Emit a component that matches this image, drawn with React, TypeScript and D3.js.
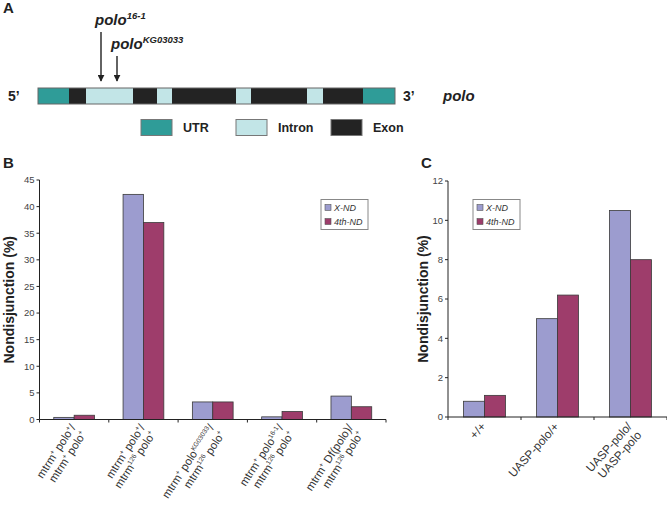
import React from 'react';
import * as d3 from 'd3';

// ---------- Data ----------
const seriesNames = ['X-ND', '4th-ND'];
const seriesColors = ['#9c9ccf', '#9e3d6b'];

const bLabels = [
  ['mtrm^{+} polo^{+}/', 'mtrm^{+} polo^{+}'],
  ['mtrm^{+} polo^{+}/', 'mtrm^{126} polo^{+}'],
  ['mtrm^{+} polo^{KG03033}/', 'mtrm^{126} polo^{+}'],
  ['mtrm^{+} polo^{16-1}/', 'mtrm^{126} polo^{+}'],
  ['mtrm^{+} Df(polo)/', 'mtrm^{126} polo^{+}'],
];
const bXND = [0.4, 42.3, 3.3, 0.5, 4.4];
const b4thND = [0.8, 37.0, 3.3, 1.5, 2.4];
const bTicks = [0, 5, 10, 15, 20, 25, 30, 35, 40, 45];

const cLabels = [['+/+'], ['UASP-polo/+'], ['UASP-polo/', 'UASP-polo']];
const cXND = [0.8, 5.0, 10.5];
const c4thND = [1.1, 6.2, 8.0];
const cTicks = [0, 2, 4, 6, 8, 10, 12];

// gene model: segment types and lengths (relative units)
const geneSegTypes = ['UTR', 'Exon', 'Intron', 'Exon', 'Intron', 'Exon', 'Intron', 'Exon', 'Intron', 'Exon', 'UTR'];
const geneSegLengths = [31, 17, 47, 24, 15, 64, 15, 56, 16, 40, 32];
const geneTypeColors: Record<string, string> = { UTR: '#2f9c98', Intron: '#c2e5e7', Exon: '#232323' };
const legendTypes = ['UTR', 'Intron', 'Exon'];
const mutations = [
  { name: 'polo', sup: '16-1', pos: 63 },
  { name: 'polo', sup: 'KG03033', pos: 79 },
];

const FONT = 'Liberation Sans, Arial, Helvetica, sans-serif';

function parseRich(s: string) {
  const parts: { t: string; sup: boolean }[] = [];
  const re = /\^\{([^}]*)\}/g;
  let last = 0;
  let m: RegExpExecArray | null;
  while ((m = re.exec(s))) {
    if (m.index > last) parts.push({ t: s.slice(last, m.index), sup: false });
    parts.push({ t: m[1], sup: true });
    last = m.index + m[0].length;
  }
  if (last < s.length) parts.push({ t: s.slice(last), sup: false });
  return parts;
}

function RichLine({ s, y, fontSize }: { s: string; y: number; fontSize: number }) {
  const parts = parseRich(s);
  let prevSup = false;
  const shift = fontSize * 0.38;
  return (
    <text x={0} y={y} textAnchor="end" fontSize={fontSize} fill="#333" fontFamily={FONT}>
      {parts.map((p, i) => {
        const dy = p.sup && !prevSup ? -shift : !p.sup && prevSup ? shift : 0;
        prevSup = p.sup;
        return (
          <tspan key={i} dy={dy} fontSize={p.sup ? fontSize * 0.58 : fontSize}>
            {p.t}
          </tspan>
        );
      })}
    </text>
  );
}

type PanelProps = {
  x0: number;
  x1: number;
  yTop: number;
  yBottom: number;
  max: number;
  ticks: number[];
  labels: string[][];
  values: number[][];
  outerPad: number;
  labelAngle: number;
  labelSize: number;
  legendX: number;
  legendY: number;
  titleX: number;
  labelOffset: number;
};

function BarPanel(p: PanelProps) {
  const y = d3.scaleLinear().domain([0, p.max]).range([p.yBottom, p.yTop]);
  const idx = p.labels.map((_, i) => String(i));
  const x = d3.scaleBand().domain(idx).range([p.x0, p.x1]).padding(0);
  const xs = d3.scaleBand().domain(seriesNames).range([0, x.bandwidth()]).paddingInner(0).paddingOuter(p.outerPad);
  const boundaries = [...idx.map((i) => x(i)!), p.x1];
  const midY = (p.yTop + p.yBottom) / 2;
  return (
    <g>
      {/* bars */}
      {idx.map((i, ci) =>
        seriesNames.map((s, si) => {
          const v = p.values[si][ci];
          return (
            <rect
              key={i + s}
              x={x(i)! + xs(s)!}
              y={y(v)}
              width={xs.bandwidth()}
              height={y(0) - y(v)}
              fill={seriesColors[si]}
              stroke="#3a3a3a"
              strokeWidth={0.8}
            />
          );
        })
      )}
      {/* y axis */}
      <line x1={p.x0} x2={p.x0} y1={p.yTop} y2={p.yBottom} stroke="#222" strokeWidth={1} />
      {p.ticks.map((t) => (
        <g key={t}>
          <line x1={p.x0 - 3} x2={p.x0} y1={y(t)} y2={y(t)} stroke="#222" strokeWidth={1} />
          <text x={p.x0 - 5} y={y(t)} dy="0.35em" textAnchor="end" fontSize={9.5} fill="#444" fontFamily={FONT}>
            {t}
          </text>
        </g>
      ))}
      {/* x axis */}
      <line x1={p.x0} x2={p.x1} y1={p.yBottom} y2={p.yBottom} stroke="#222" strokeWidth={1} />
      {boundaries.map((b, i) => (
        <line key={i} x1={b} x2={b} y1={p.yBottom} y2={p.yBottom + 3} stroke="#222" strokeWidth={1} />
      ))}
      {/* category labels */}
      {idx.map((i, ci) => (
        <g key={'l' + i} transform={`translate(${x(i)! + x.bandwidth() / 2 + 2},${p.yBottom + p.labelOffset}) rotate(${p.labelAngle})`}>
          {p.labels[ci].map((line, li) => (
            <RichLine key={li} s={line} y={li * p.labelSize * 1.1} fontSize={p.labelSize} />
          ))}
        </g>
      ))}
      {/* y title */}
      <text
        transform={`translate(${p.titleX},${midY}) rotate(-90)`}
        textAnchor="middle"
        fontSize={14}
        fontWeight="bold"
        fill="#222"
        fontFamily={FONT}
      >
        Nondisjunction (%)
      </text>
      {/* legend */}
      <g transform={`translate(${p.legendX},${p.legendY})`}>
        <rect x={0} y={0} width={47} height={30} fill="#fff" stroke="#888" strokeWidth={1} />
        {seriesNames.map((s, si) => (
          <g key={s} transform={`translate(4,${8 + si * 14})`}>
            <rect x={0} y={-3} width={6} height={6} fill={seriesColors[si]} stroke="#555" strokeWidth={0.6} />
            <text x={9} y={0} dy="0.35em" fontSize={9} fontStyle="italic" fill="#333" fontFamily={FONT}>
              {s}
            </text>
          </g>
        ))}
      </g>
    </g>
  );
}

function GenePanel() {
  const total = d3.sum(geneSegLengths);
  const gx = d3.scaleLinear().domain([0, total]).range([38, 395]);
  const starts = geneSegLengths.map((_, i) => d3.sum(geneSegLengths.slice(0, i)));
  const gy0 = 88;
  const gy1 = 104;
  const legendXs = [141, 236, 331];
  return (
    <g fontFamily={FONT}>
      <defs>
        <marker id="arr" viewBox="0 0 10 10" refX="9" refY="5" markerWidth="7" markerHeight="7" orient="auto" markerUnits="userSpaceOnUse">
          <path d="M0,0 L10,5 L0,10 Z" fill="#222" />
        </marker>
      </defs>
      {geneSegTypes.map((t, i) => (
        <rect
          key={i}
          x={gx(starts[i])}
          y={gy0}
          width={gx(starts[i] + geneSegLengths[i]) - gx(starts[i])}
          height={gy1 - gy0}
          fill={geneTypeColors[t]}
        />
      ))}
      <rect x={gx(0)} y={gy0} width={gx(total) - gx(0)} height={gy1 - gy0} fill="none" stroke="#666" strokeWidth={1} />
      <text x={8} y={101} fontSize={14} fontWeight="bold" fill="#222">5’</text>
      <text x={403} y={101} fontSize={14} fontWeight="bold" fill="#222">3’</text>
      <text x={443} y={101} fontSize={15} fontWeight="bold" fontStyle="italic" fill="#222">polo</text>
      {mutations.map((m, i) => {
        const xm = gx(m.pos);
        const top = i === 0 ? 32 : 56;
        const ty = i === 0 ? 25 : 49;
        const tx = i === 0 ? 95 : 111;
        return (
          <g key={i}>
            <line x1={xm} x2={xm} y1={top} y2={81} stroke="#222" strokeWidth={1.4} markerEnd="url(#arr)" />
            <text x={tx} y={ty} fontSize={15} fontWeight="bold" fontStyle="italic" fill="#222">
              {m.name}
              <tspan dy={-6} fontSize={9.5}>{m.sup}</tspan>
            </text>
          </g>
        );
      })}
      {legendTypes.map((t, i) => (
        <g key={t}>
          <rect x={legendXs[i]} y={119.5} width={31} height={16} fill={geneTypeColors[t]} stroke="#777" strokeWidth={1} />
          <text x={legendXs[i] + 42} y={132} fontSize={12.5} fontWeight="bold" fill="#222">{t}</text>
        </g>
      ))}
      <text x={3} y={13} fontSize={15} fontWeight="bold" fill="#222">A</text>
    </g>
  );
}

export default function App() {
  return (
    <svg
      width={667}
      height={506}
      style={{ position: 'absolute', left: 0, top: 0, background: '#fff' }}
      fontFamily={FONT}
    >
      <rect x={0} y={0} width={667} height={506} fill="#fff" />
      <GenePanel />
      <text x={3} y={168} fontSize={15} fontWeight="bold" fill="#222" fontFamily={FONT}>B</text>
      <text x={421} y={168} fontSize={15} fontWeight="bold" fill="#222" fontFamily={FONT}>C</text>
      <BarPanel
        x0={39.5}
        x1={386}
        yTop={180}
        yBottom={419.5}
        max={45}
        ticks={bTicks}
        labels={bLabels}
        values={[bXND, b4thND]}
        outerPad={0.7}
        labelAngle={-57}
        labelSize={11.4}
        legendX={321}
        legendY={199.5}
        titleX={14}
        labelOffset={8}
      />
      <BarPanel
        x0={448}
        x1={667}
        yTop={181}
        yBottom={417}
        max={12}
        ticks={cTicks}
        labels={cLabels}
        values={[cXND, c4thND]}
        outerPad={0.74}
        labelAngle={-48}
        labelSize={11.8}
        legendX={473}
        legendY={199.5}
        titleX={428}
        labelOffset={10}
      />
    </svg>
  );
}
